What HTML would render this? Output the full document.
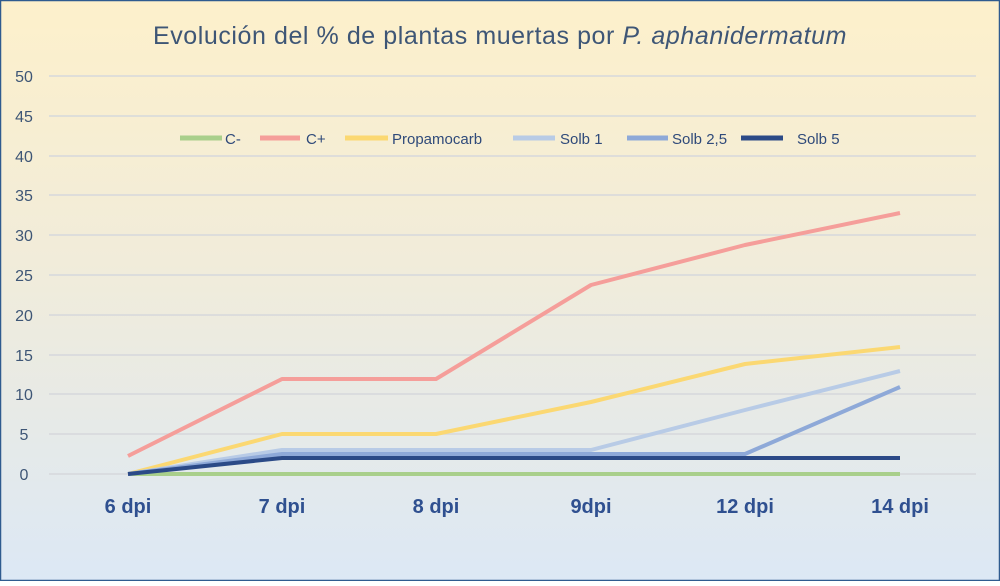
<!DOCTYPE html>
<html><head><meta charset="utf-8"><style>
body{margin:0;width:1000px;height:581px;overflow:hidden}
</style></head><body>
<svg width="1000" height="581" xmlns="http://www.w3.org/2000/svg" font-family="Liberation Sans, sans-serif">
<defs><linearGradient id="g" x1="0" y1="0" x2="0" y2="1">
<stop offset="0" stop-color="#fdf0cb"/><stop offset="0.45" stop-color="#f1ecda"/><stop offset="1" stop-color="#dce8f5"/></linearGradient></defs>
<rect x="0.5" y="0.5" width="999" height="580" fill="url(#g)" stroke="#2f5b8f" stroke-width="1.5"/>
<text x="500" y="44" text-anchor="middle" font-size="25" letter-spacing="0.6" fill="#3e5676" textLength="694" lengthAdjust="spacing">Evolución  del % de plantas  muertas por <tspan font-style="italic">P. aphanidermatum</tspan></text>
<g stroke="#d6d8dc" stroke-width="1.5">
<line x1="49" x2="976" y1="76" y2="76"/><line x1="49" x2="976" y1="116" y2="116"/><line x1="49" x2="976" y1="156" y2="156"/><line x1="49" x2="976" y1="195" y2="195"/><line x1="49" x2="976" y1="235" y2="235"/><line x1="49" x2="976" y1="275" y2="275"/><line x1="49" x2="976" y1="315" y2="315"/><line x1="49" x2="976" y1="355" y2="355"/><line x1="49" x2="976" y1="394" y2="394"/><line x1="49" x2="976" y1="434" y2="434"/><line x1="49" x2="976" y1="474" y2="474"/>
</g>
<g font-size="16" fill="#3e5676" text-anchor="middle">
<text x="24" y="82">50</text><text x="24" y="122">45</text><text x="24" y="162">40</text><text x="24" y="201">35</text><text x="24" y="241">30</text><text x="24" y="281">25</text><text x="24" y="321">20</text><text x="24" y="361">15</text><text x="24" y="400">10</text><text x="24" y="440">5</text><text x="24" y="480">0</text>
</g>
<g font-size="20" font-weight="bold" fill="#2f5090" text-anchor="middle">
<text x="128" y="513">6 dpi</text><text x="282" y="513">7 dpi</text><text x="436" y="513">8 dpi</text><text x="591" y="513">9dpi</text><text x="745" y="513">12 dpi</text><text x="900" y="513">14 dpi</text>
</g>
<g fill="none" stroke-width="4" stroke-linejoin="round">
<polyline stroke="#a9cf8b" points="128,474 282,474 436,474 591,474 745,474 900,474"/>
<polyline stroke="#f59e9a" points="128,456 282,379 436,379 591,285 745,245 900,213"/>
<polyline stroke="#fbd872" points="128,474 282,434 436,434 591,402 745,364 900,347"/>
<polyline stroke="#b8cbe6" points="128,474 282,450 436,450 591,450 745,410 900,371"/>
<polyline stroke="#8ea9d8" points="128,474 282,454 436,454 591,454 745,454 900,387"/>
<polyline stroke="#2b4a87" points="128,474 282,458 436,458 591,458 745,458 900,458"/>
</g>
<g stroke-width="5">
<line x1="180" x2="222" y1="138" y2="138" stroke="#a9cf8b"/>
<line x1="260" x2="300" y1="138" y2="138" stroke="#f59e9a"/>
<line x1="345" x2="388" y1="138" y2="138" stroke="#fbd872"/>
<line x1="513" x2="555" y1="138" y2="138" stroke="#b8cbe6"/>
<line x1="627" x2="668" y1="138" y2="138" stroke="#8ea9d8"/>
<line x1="741" x2="783" y1="138" y2="138" stroke="#2b4a87"/>
</g>
<g font-size="15" fill="#2f4a7a">
<text x="225" y="144">C-</text><text x="306" y="144">C+</text><text x="392" y="144">Propamocarb</text><text x="560" y="144">Solb 1</text><text x="672" y="144">Solb 2,5</text><text x="797" y="144">Solb 5</text>
</g>
</svg>
</body></html>
